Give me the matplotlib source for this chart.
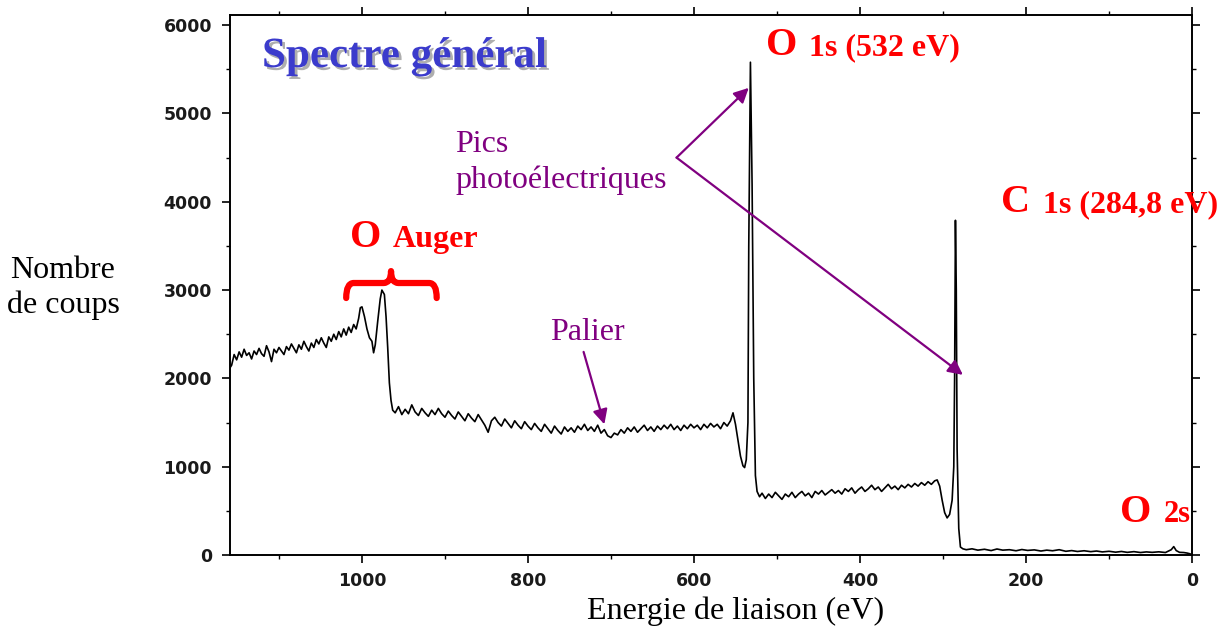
"""Spectre XPS général : nombre de coups en fonction de l'énergie de liaison."""
import matplotlib
matplotlib.use("Agg")
import matplotlib.pyplot as plt
import matplotlib.patheffects as pe
from matplotlib.path import Path
from matplotlib.patches import PathPatch

W, H = 1220, 633

# ── Données lues sur le spectre (eV, coups) ─────────────────────────────
# fond à haute énergie + pics Auger de l'oxygène
energie_auger = [1159, 1157, 1154, 1151, 1148, 1145, 1142, 1139, 1136, 1133, 1130, 1127,
                 1124, 1121, 1118, 1115, 1112, 1109, 1106, 1103, 1100, 1097, 1094, 1091,
                 1088, 1085, 1082, 1079, 1076, 1073, 1070, 1067, 1064, 1061, 1058, 1055,
                 1052, 1049, 1046, 1043, 1040, 1037, 1034, 1031, 1028, 1025, 1022, 1019,
                 1016, 1013, 1010, 1007, 1004, 1002, 1000, 997, 994, 991, 988, 986, 984,
                 981, 978, 976, 973, 971, 969, 967, 965, 963]
coups_auger = [2120, 2150, 2270, 2210, 2300, 2240, 2330, 2260, 2290, 2220, 2310, 2270,
               2340, 2280, 2250, 2370, 2300, 2190, 2330, 2290, 2350, 2310, 2270, 2360,
               2320, 2390, 2340, 2290, 2380, 2330, 2420, 2360, 2310, 2400, 2350, 2440,
               2390, 2460, 2400, 2350, 2470, 2420, 2500, 2440, 2530, 2470, 2560, 2490,
               2580, 2520, 2610, 2560, 2680, 2800, 2810, 2700, 2560, 2460, 2420, 2290,
               2380, 2650, 2900, 3000, 2950, 2700, 2350, 1950, 1750, 1640]

# palier entre l'Auger et le pic O 1s
energie_palier = [960, 956, 952, 948, 944, 940, 936, 932, 928, 924, 920, 916, 912, 908,
                  904, 900, 896, 892, 888, 884, 880, 876, 872, 868, 864, 860, 856, 852,
                  848, 844, 840, 836, 832, 828, 824, 820, 816, 812, 808, 804, 800, 796,
                  792, 788, 784, 780, 776, 772, 768, 764, 760, 756, 752, 748, 744, 740,
                  736, 732, 728, 724, 720, 716, 712, 708, 704, 700, 696, 692, 688, 684,
                  680, 676, 672, 668, 664, 660, 656, 652, 648, 644, 640, 636, 632, 628,
                  624, 620, 616, 612, 608, 604, 600, 596, 592, 588, 584, 580, 576, 572,
                  568, 564, 560, 556, 553, 550]
coups_palier = [1610, 1680, 1590, 1650, 1600, 1700, 1620, 1580, 1660, 1610, 1570, 1640,
                1590, 1660, 1600, 1560, 1630, 1580, 1540, 1620, 1570, 1520, 1600, 1550,
                1510, 1590, 1530, 1470, 1390, 1520, 1560, 1500, 1460, 1540, 1490, 1440,
                1520, 1470, 1430, 1510, 1460, 1420, 1490, 1440, 1400, 1480, 1430, 1380,
                1460, 1410, 1370, 1450, 1400, 1440, 1390, 1460, 1420, 1480, 1410, 1450,
                1400, 1470, 1380, 1420, 1350, 1330, 1380, 1360, 1420, 1380, 1440, 1400,
                1450, 1390, 1430, 1470, 1410, 1450, 1400, 1460, 1420, 1470, 1430, 1480,
                1420, 1460, 1410, 1470, 1430, 1480, 1440, 1470, 1420, 1480, 1440, 1490,
                1450, 1480, 1430, 1500, 1460, 1520, 1610, 1480]

# pic O 1s (532 eV)
energie_o1s = [547, 544, 541, 539, 537, 535, 534, 532, 530, 528, 526, 524]
coups_o1s = [1300, 1120, 1010, 990, 1080, 1500, 3500, 5580, 4200, 2000, 900, 720]

# fond entre O 1s et C 1s
energie_fond = [521, 518, 514, 510, 506, 502, 498, 494, 490, 486, 482, 478, 474, 470,
                466, 462, 458, 454, 450, 446, 442, 438, 434, 430, 426, 422, 418, 414,
                410, 406, 402, 398, 394, 390, 386, 382, 378, 374, 370, 366, 362, 358,
                354, 350, 346, 342, 338, 334, 330, 326, 322, 318, 314, 310, 307]
coups_fond = [660, 700, 640, 690, 650, 710, 670, 630, 690, 660, 710, 650, 690, 720,
              670, 700, 650, 720, 690, 730, 680, 710, 740, 700, 730, 690, 750, 720,
              760, 700, 740, 770, 720, 750, 790, 740, 770, 720, 760, 800, 750, 780,
              740, 790, 760, 800, 770, 810, 780, 820, 790, 830, 800, 840, 850]

# pic C 1s (284,8 eV)
energie_c1s = [304, 301, 298, 295, 292, 289, 287, 286, 285, 284, 283, 281, 279, 276]
coups_c1s = [780, 620, 480, 420, 460, 620, 1000, 2000, 3790, 3000, 1200, 300, 90, 70]

# basse énergie (O 2s)
energie_bas = [272, 265, 258, 250, 242, 235, 228, 220, 212, 205, 198, 190, 182, 175,
               168, 160, 152, 145, 138, 130, 122, 115, 108, 100, 92, 85, 78, 70, 62,
               55, 48, 40, 32, 25, 22, 19, 15, 10, 6, 3, 0]
coups_bas = [60, 70, 55, 65, 50, 68, 55, 60, 48, 62, 52, 58, 45, 55,
             48, 60, 42, 50, 40, 48, 38, 45, 35, 42, 32, 40, 30, 38, 28,
             35, 30, 36, 28, 60, 95, 50, 30, 28, 22, 15, 5]

energie = energie_auger + energie_palier + energie_o1s + energie_fond + energie_c1s + energie_bas
coups = coups_auger + coups_palier + coups_o1s + coups_fond + coups_c1s + coups_bas

y_ticks = [0, 1000, 2000, 3000, 4000, 5000, 6000]
x_ticks = [0, 200, 400, 600, 800, 1000]

SERIF = "Liberation Serif"
ROUGE = "#ff0000"
VIOLET = "#800080"
BLEU = "#3b3bcc"


def px(x, y):
    """pixel de l'image de référence -> fraction de figure"""
    return x / W, 1 - y / H


fig = plt.figure(figsize=(W / 100, H / 100), dpi=100)
ax = fig.add_axes([230 / W, 1 - 555 / H, (1192 - 230) / W, (555 - 15) / H])

ax.plot(energie, coups, color="black", lw=1.2)
ax.set_xlim(1159, 0)
ax.set_ylim(0, 6115)

ax.set_xticks(x_ticks)
ax.set_xticks([100, 300, 500, 700, 900, 1100], minor=True)
ax.set_yticks(y_ticks)
ax.set_yticks([500, 1500, 2500, 3500, 4500, 5500], minor=True)
ax.tick_params(which="major", length=6, width=1.2, direction="out", top=True, right=True,
               labelsize=12.5, labelcolor="#1a1a1a")
ax.tick_params(which="minor", length=3, width=1.0, direction="out", top=True, right=True)
ax.tick_params(axis="y", pad=7)
ax.tick_params(axis="x", pad=6)
for lab in ax.get_xticklabels() + ax.get_yticklabels():
    lab.set_fontweight("bold")
for sp in ax.spines.values():
    sp.set_linewidth(1.4)

# ── Titres des axes ──────────────────────────────────────────────────
fig.text(*px(63, 278), "Nombre", family=SERIF, fontsize=23, ha="center", va="baseline")
fig.text(*px(63, 313), "de coups", family=SERIF, fontsize=23, ha="center", va="baseline")
fig.text(*px(736, 619), "Energie de liaison (eV)", family=SERIF, fontsize=23,
         ha="center", va="baseline")

# ── Titre avec ombre ───────────────────────────────────────────────────
fig.text(*px(262, 67), "Spectre général", family=SERIF, fontsize=31, fontweight="bold",
         color=BLEU, va="baseline",
         path_effects=[pe.withSimplePatchShadow(offset=(2, -2), shadow_rgbFace="0.55", alpha=0.7)])

# ── Étiquettes des pics (rouge) ──────────────────────────────────────────
def label(x_big, x_small, y, big, small, small_size=23):
    fig.text(*px(x_big, y), big, family=SERIF, fontsize=29, fontweight="bold",
             color=ROUGE, va="baseline")
    fig.text(*px(x_small, y), small, family=SERIF, fontsize=small_size, fontweight="bold",
             color=ROUGE, va="baseline")


label(766, 809, 55, "O", "1s (532 eV)")
label(1001, 1043, 212, "C", "1s (284,8 eV)")
label(350, 393, 247, "O", "Auger")
label(1120, 1164, 522, "O", "2s", small_size=22)

# accolade rouge au-dessus des pics Auger
yb, ym, yt = 2910, 3080, 3215
x0, xc, x1, r = 1019, 965, 910, 9
verts = [(x0, yb), (x0, ym), (x0 - r, ym), (xc + r, ym), (xc, ym), (xc, yt),
         (xc, ym), (xc - r, ym), (x1 + r, ym), (x1, ym), (x1, yb)]
codes = [Path.MOVETO, Path.CURVE3, Path.CURVE3, Path.LINETO, Path.CURVE3, Path.CURVE3,
         Path.CURVE3, Path.CURVE3, Path.LINETO, Path.CURVE3, Path.CURVE3]
ax.add_patch(PathPatch(Path(verts, codes), fill=False, edgecolor=ROUGE, lw=4.5,
                       capstyle="round", joinstyle="round", clip_on=False))

# ── Annotations violettes ─────────────────────────────────────────────
fig.text(*px(455, 152), "Pics", family=SERIF, fontsize=23, color=VIOLET, va="baseline")
fig.text(*px(455, 188), "photoélectriques", family=SERIF, fontsize=23, color=VIOLET,
         va="baseline")
fig.text(*px(550, 340), "Palier", family=SERIF, fontsize=23, color=VIOLET, va="baseline")

fleche = dict(arrowstyle="-|>", color=VIOLET, lw=1.6, mutation_scale=22,
              shrinkA=0, shrinkB=0)
ax.annotate("", xy=(534, 5290), xytext=(621, 4500), arrowprops=fleche)
ax.annotate("", xy=(276, 2040), xytext=(621, 4500), arrowprops=fleche)
ax.annotate("", xy=(708, 1480), xytext=(733, 2300), arrowprops=fleche)

fig.savefig("out.png", dpi=100)
